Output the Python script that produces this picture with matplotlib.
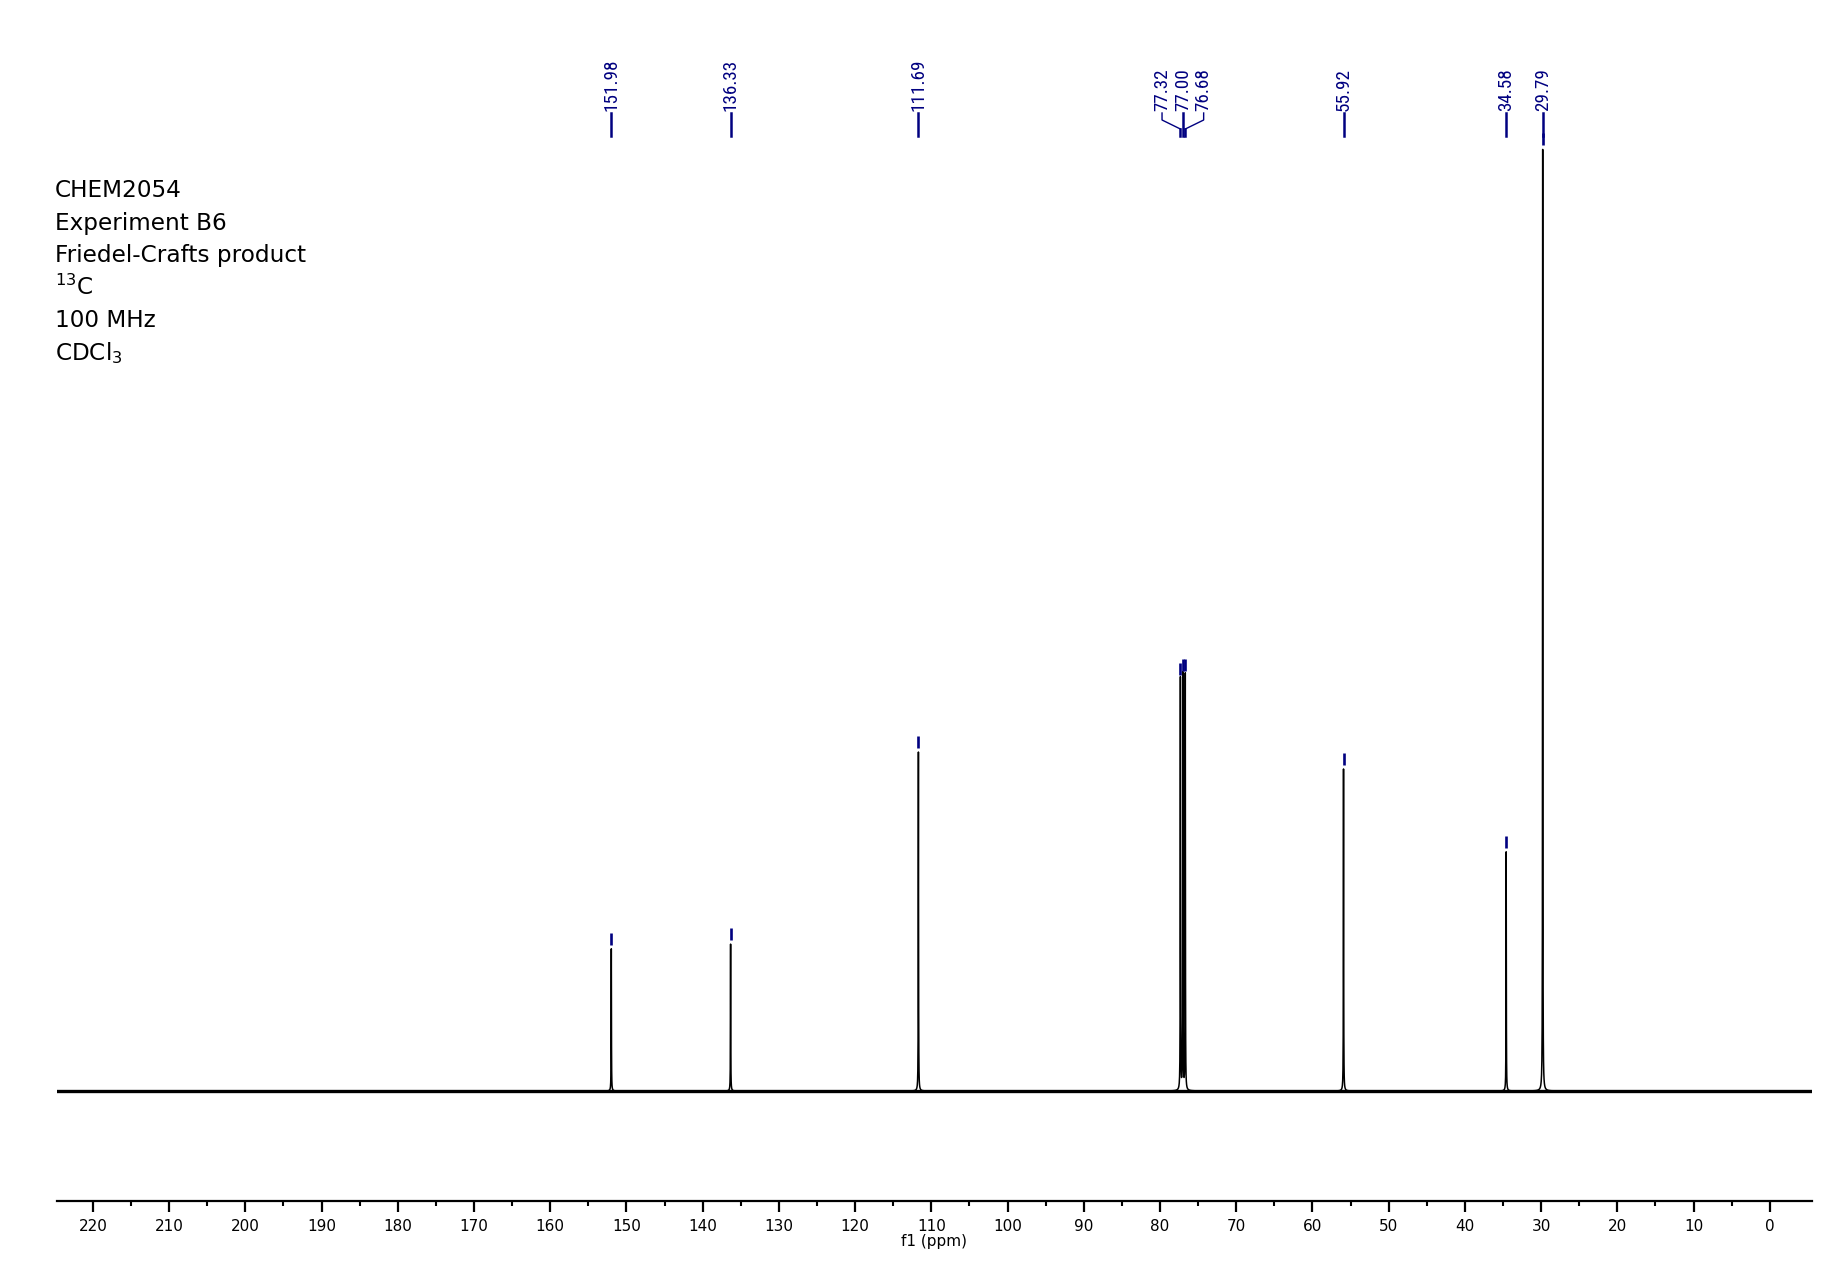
"""
13C NMR spectrum of the Friedel-Crafts product (CHEM2054, Experiment B6),
redrawn with matplotlib from the picked peak list.
"""
import matplotlib
matplotlib.use('Agg')

import matplotlib.pyplot as plt
import numpy as np
from matplotlib.lines import Line2D
from matplotlib.transforms import blended_transform_factory

# --- Peak list (ppm) and relative intensities ---
peak_ppm = [151.98, 136.33, 111.69, 77.32, 77.00, 76.68, 55.92, 34.58, 29.79]
peak_height = [15.1, 15.6, 36.0, 43.8, 44.2, 44.2, 34.2, 25.4, 100.0]

# --- Header text (top left) ---
info_lines = ["CHEM2054", "Experiment B6", "Friedel-Crafts product",
              r"$^{13}$C", "100 MHz", r"CDCl$_3$"]

# --- Axis ticks ---
major_ticks = list(range(0, 230, 10))
minor_ticks = list(range(5, 225, 10))
x_label = "f1 (ppm)"

NAVY = '#000080'
W, H = 1844, 1262
# narrow face for the peak labels, whichever is installed first
LABEL_FONT = ['Roboto Condensed', 'DejaVu Sans Condensed', 'Open Sans Condensed',
              'Liberation Sans Narrow', 'Roboto']


def fig_y(px):
    """Pixel row (from the top) -> figure fraction."""
    return 1 - px / H


def spread_labels(ppm, min_sep):
    """Push crowded labels apart, keeping each crowded group centred."""
    groups = [[ppm[0]]]
    for p in ppm[1:]:
        if groups[-1][-1] - p < min_sep:
            groups[-1].append(p)
        else:
            groups.append([p])
    out = []
    for g in groups:
        mid = np.mean(g)
        n = len(g)
        out += [mid + (n - 1) / 2 * min_sep - i * min_sep for i in range(n)]
    return out


fig = plt.figure(figsize=(W / 100, H / 100), dpi=100)
ax = fig.add_axes([57 / W, 61.3 / H, (1811.7 - 57) / W, 1200.7 / H])

# --- Spectrum: Lorentzian lines on a dense ppm grid ---
ppm = np.arange(-6, 226, 0.002)
fwhm = 0.04
spec = np.zeros_like(ppm)
for p, h in zip(peak_ppm, peak_height):
    spec += h / (1 + ((ppm - p) / (fwhm / 2)) ** 2)

# noisy baseline drawn as a thick band
ax.axhline(0, color='black', lw=2.4, zorder=1)
ax.plot(ppm, spec, color='black', lw=1.1, zorder=2)

# peak-pick markers just above each peak top
px_per_unit = (1091 - 149.4) / 100.0
ax.plot(peak_ppm, [h + 10 / px_per_unit for h in peak_height], ls='none',
        marker='|', markersize=9, markeredgewidth=1.9, color=NAVY, zorder=3)

ax.set_xlim(224.7, -5.5)
ax.set_ylim(-11.65, 115.87)

# --- Axis styling ---
for side in ('top', 'left', 'right'):
    ax.spines[side].set_visible(False)
ax.spines['bottom'].set_linewidth(1.6)
ax.set_yticks([])
ax.set_xticks(major_ticks)
ax.set_xticks(minor_ticks, minor=True)
ax.tick_params(axis='x', which='major', direction='out', length=8, width=1.6,
               pad=5, labelsize=11)
ax.tick_params(axis='x', which='minor', direction='out', length=3.8, width=1.5)
ax.set_xlabel(x_label, fontsize=11, labelpad=0)

# --- Peak labels along the top ---
trans = blended_transform_factory(ax.transData, fig.transFigure)
label_ppm = spread_labels(peak_ppm, 2.73)
for p, lp in zip(peak_ppm, label_ppm):
    ax.text(lp, fig_y(111), f"{p:.2f}", rotation=90, ha='center', va='bottom',
            color=NAVY, fontsize=13.8, transform=trans, family=LABEL_FONT)
    if abs(lp - p) < 1e-9:
        ax.add_line(Line2D([p, p], [fig_y(113), fig_y(136)], color=NAVY,
                           lw=1.8, transform=trans, clip_on=False))
    else:
        ax.add_line(Line2D([lp, lp, p], [fig_y(113), fig_y(120), fig_y(129)],
                           color=NAVY, lw=1.0, transform=trans, clip_on=False))
        ax.add_line(Line2D([p, p], [fig_y(129), fig_y(136)], color=NAVY,
                           lw=1.8, transform=trans, clip_on=False))

# --- Header block ---
for i, line in enumerate(info_lines):
    fig.text(55 / W, fig_y(197.3 + i * 32.5), line, fontsize=16.7,
             va='baseline', ha='left')

fig.savefig('out.png', dpi=100)
